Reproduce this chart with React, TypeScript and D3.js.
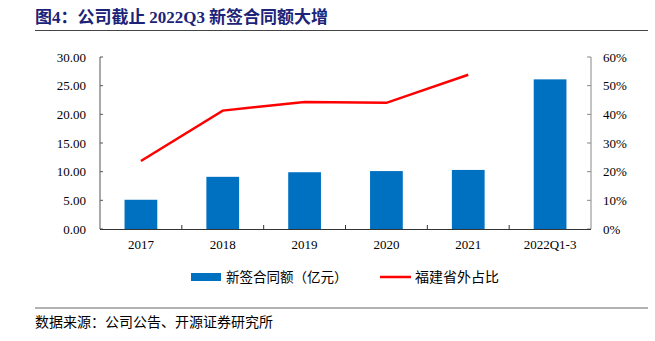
import React from "react";
import * as d3 from "d3";

const categories = ["2017", "2018", "2019", "2020", "2021", "2022Q1-3"];
const contractValues = [5.1, 9.1, 9.9, 10.1, 10.3, 26.1];
const outsideShare = [0.237, 0.413, 0.443, 0.44, 0.538];
const leftTicks = [0, 5, 10, 15, 20, 25, 30];
const rightTicks = [0, 0.1, 0.2, 0.3, 0.4, 0.5, 0.6];

const W = 655, H = 341;
const left = 100, right = 591, top = 57, bottom = 229;
const serif = "'Liberation Serif', 'Times New Roman', serif";
const cjk = "'Noto Sans CJK SC', sans-serif";

export default function App() {
  const x = d3.scaleBand<string>().domain(categories).range([left, right]);
  const yL = d3.scaleLinear().domain([0, 30]).range([bottom, top]);
  const yR = d3.scaleLinear().domain([0, 0.6]).range([bottom, top]);
  const bw = x.bandwidth() * 0.4;
  const line = d3
    .line<number>()
    .x((_, i) => (x(categories[i]) as number) + x.bandwidth() / 2)
    .y((d) => yR(d));

  return (
    <svg width={W} height={H} style={{ position: "absolute", left: 0, top: 0, background: "#fff" }}>
      <text x={35} y={23} fontFamily={`${serif}, ${cjk}`} fontWeight="bold" fontSize={17} fill="#1c2379">
        <tspan fontFamily={cjk}>图</tspan>
        <tspan>4</tspan>
        <tspan fontFamily={cjk}>：公司截止 </tspan>
        <tspan>2022Q3</tspan>
        <tspan fontFamily={cjk}> 新签合同额大增</tspan>
      </text>
      <line x1={35} x2={648} y1={30.5} y2={30.5} stroke="#444" strokeWidth={1.2} />

      {categories.map((c, i) => (
        <rect
          key={c}
          x={(x(c) as number) + (x.bandwidth() - bw) / 2}
          y={yL(contractValues[i])}
          width={bw}
          height={bottom - yL(contractValues[i])}
          fill="#0070c0"
        />
      ))}

      {/* left axis */}
      <line x1={left} x2={left} y1={top} y2={bottom} stroke="#555" />
      {leftTicks.map((t) => (
        <g key={t}>
          <line x1={left} x2={left + 3} y1={yL(t)} y2={yL(t)} stroke="#555" />
          <text x={86} y={yL(t) + 4.5} textAnchor="end" fontFamily={serif} fontSize={13} fill="#000">
            {t.toFixed(2)}
          </text>
        </g>
      ))}
      {/* right axis */}
      <line x1={right} x2={right} y1={top} y2={bottom} stroke="#888" />
      {rightTicks.map((t) => (
        <g key={t}>
          <line x1={right - 4} x2={right} y1={yR(t)} y2={yR(t)} stroke="#888" />
          <text x={603} y={yR(t) + 4.5} textAnchor="start" fontFamily={serif} fontSize={13} fill="#000">
            {Math.round(t * 100)}%
          </text>
        </g>
      ))}
      {/* bottom axis */}
      <line x1={left} x2={right} y1={bottom + 0.5} y2={bottom + 0.5} stroke="#333" />
      {categories.slice(1).map((c) => (
        <line key={c} x1={x(c) as number} x2={x(c) as number} y1={bottom} y2={bottom - 4} stroke="#333" />
      ))}
      {categories.map((c) => (
        <text
          key={c}
          x={(x(c) as number) + x.bandwidth() / 2}
          y={249}
          textAnchor="middle"
          fontFamily={serif}
          fontSize={13}
          fill="#000"
        >
          {c}
        </text>
      ))}

      <path d={line(outsideShare) as string} fill="none" stroke="#ff0000" strokeWidth={2.5} />

      {/* legend */}
      <rect x={191} y={273} width={30} height={8} fill="#0070c0" />
      <text x={226} y={282} fontFamily={cjk} fontSize={13.5} fill="#000">新签合同额（亿元）</text>
      <line x1={380} x2={411} y1={277} y2={277} stroke="#ff0000" strokeWidth={2.5} />
      <text x={415} y={282} fontFamily={cjk} fontSize={14} fill="#000">福建省外占比</text>

      <line x1={35} x2={648} y1={308} y2={308} stroke="#666" strokeWidth={1.2} />
      <text x={35} y={327} fontFamily={cjk} fontSize={14} fill="#000">数据来源：公司公告、开源证券研究所</text>
    </svg>
  );
}
